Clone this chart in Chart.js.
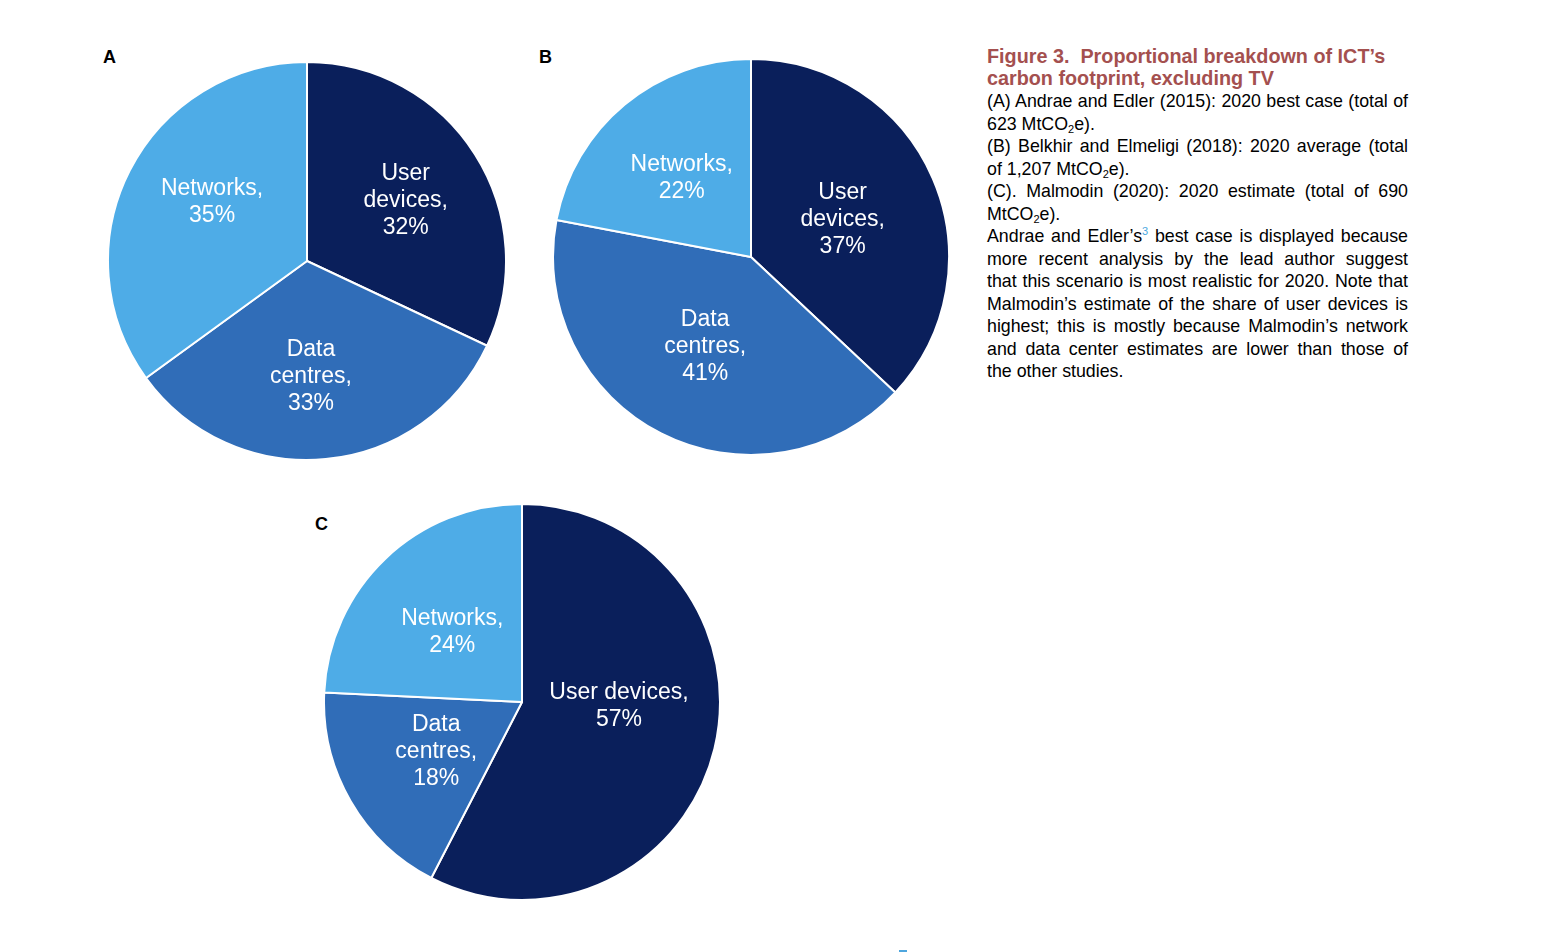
<!DOCTYPE html>
<html>
<head>
<meta charset="utf-8">
<script src="https://cdn.jsdelivr.net/npm/chart.js@4"></script>
<style>
  body { margin: 0; background: #fff; width: 1566px; height: 952px; position: relative; overflow: hidden;
         font-family: "Liberation Sans", Arial, Helvetica, sans-serif; }
  canvas { position: absolute; }
  .tag { position: absolute; font-weight: bold; font-size: 18px; color: #000; }
  #caption { position: absolute; left: 987px; top: 45px; width: 421px; font-size: 17.8px; line-height: 22.5px; color: #000; }
  #caption .title { color: #a4504f; font-weight: bold; font-size: 19.8px; line-height: 22px; margin-bottom: 1px; }
  #caption .j { text-align: justify; text-align-last: justify; white-space: nowrap; }
  #caption sub { font-size: 11px; vertical-align: -3px; line-height: 0; }
  #caption sup { font-size: 11px; color: #4aa8e0; vertical-align: 7px; line-height: 0; }
  #mark { position: absolute; left: 899px; top: 950px; width: 8px; height: 2px; background: #4ea6de; }
</style>
</head>
<body>
<div class="tag" style="left:103px; top:47px;">A</div>
<div class="tag" style="left:539px; top:47px;">B</div>
<div class="tag" style="left:315px; top:514px;">C</div>

<canvas id="pieA" width="400" height="400" style="left:107px; top:61px;"></canvas>
<canvas id="pieB" width="398" height="398" style="left:552px; top:58px;"></canvas>
<canvas id="pieC" width="398" height="398" style="left:323px; top:503px;"></canvas>

<div id="caption">
  <div class="title">Figure 3.&nbsp; Proportional breakdown of ICT’s<br>carbon footprint, excluding TV</div>
  <div class="j">(A) Andrae and Edler (2015): 2020 best case (total of</div>
  <div>623 MtCO<sub>2</sub>e).</div>
  <div class="j">(B) Belkhir and Elmeligi (2018): 2020 average (total</div>
  <div>of 1,207 MtCO<sub>2</sub>e).</div>
  <div class="j">(C). Malmodin (2020): 2020 estimate (total of 690</div>
  <div>MtCO<sub>2</sub>e).</div>
  <div class="j">Andrae and Edler’s<sup>3</sup> best case is displayed because</div>
  <div class="j">more recent analysis by the lead author suggest</div>
  <div class="j">that this scenario is most realistic for 2020. Note that</div>
  <div class="j">Malmodin’s estimate of the share of user devices is</div>
  <div class="j">highest; this is mostly because Malmodin’s network</div>
  <div class="j">and data center estimates are lower than those of</div>
  <div>the other studies.</div>
</div>
<div id="mark"></div>

<script>
// slices go clockwise from 12 o'clock: user devices, data centres, networks
const colours = ["#0a1f5b", "#306db8", "#4eace7"];

const namesA = ["User\ndevices", "Data\ncentres", "Networks"];
const valuesA = [32, 33, 35];

const namesB = ["User\ndevices", "Data\ncentres", "Networks"];
const valuesB = [37, 41, 22];

const namesC = ["User devices", "Data\ncentres", "Networks"];
const valuesC = [57, 18, 24];

// draws "name,\nNN%" inside each slice
const sliceLabels = {
  id: "sliceLabels",
  afterDatasetsDraw(chart, args, opts) {
    const ctx = chart.ctx;
    const meta = chart.getDatasetMeta(0);
    const values = chart.data.datasets[0].data;
    const shift = opts.shift || [];
    ctx.save();
    ctx.fillStyle = "#fff";
    ctx.font = "23px 'Liberation Sans', Arial, Helvetica, sans-serif";
    ctx.textAlign = "center";
    ctx.textBaseline = "middle";
    meta.data.forEach((arc, i) => {
      const p = arc.getProps(["x", "y", "startAngle", "endAngle", "outerRadius"], true);
      const mid = (p.startAngle + p.endAngle) / 2 + (shift[i] || 0);
      const r = p.outerRadius * opts.radius[i];
      const cx = p.x + Math.cos(mid) * r;
      const cy = p.y + Math.sin(mid) * r;
      const lines = (chart.data.labels[i] + ",\n" + values[i] + "%").split("\n");
      const lh = 27;
      lines.forEach((line, k) => {
        ctx.fillText(line, cx, cy + (k - (lines.length - 1) / 2) * lh);
      });
    });
    ctx.restore();
  }
};

function makePie(id, names, values, labelOpts) {
  return new Chart(document.getElementById(id), {
    type: "pie",
    data: {
      labels: names,
      datasets: [{
        data: values,
        backgroundColor: colours,
        borderColor: "#fff",
        borderWidth: 2
      }]
    },
    options: {
      responsive: false,
      animation: false,
      events: [],
      layout: { padding: 0 },
      plugins: {
        legend: { display: false },
        tooltip: { enabled: false },
        sliceLabels: labelOpts
      }
    },
    plugins: [sliceLabels]
  });
}

makePie("pieA", namesA, valuesA, { radius: [0.58, 0.58, 0.56], shift: [0.02, 0.06, 0.08] });
makePie("pieB", namesB, valuesB, { radius: [0.5, 0.51, 0.53], shift: [0.02, 0, -0.03] });
makePie("pieC", namesC, valuesC, { radius: [0.49, 0.5, 0.5], shift: [-0.195, 0, -0.02] });
</script>
</body>
</html>
